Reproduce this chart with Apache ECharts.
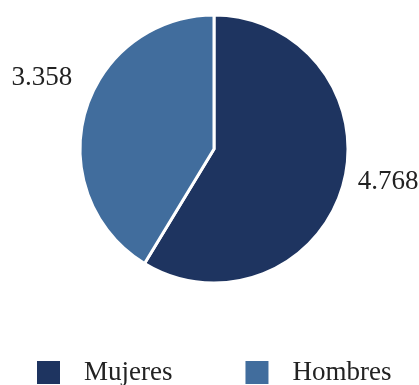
<!DOCTYPE html>
<html>
<head>
<meta charset="utf-8">
<script src="https://cdn.jsdelivr.net/npm/echarts@6/dist/echarts.min.js"></script>
<style>
  html, body { margin: 0; padding: 0; background: #fff; }
  #chart { width: 419px; height: 385px; }
</style>
</head>
<body>
<div id="chart"></div>
<script>
// datos del gráfico
const categories = ['Mujeres', 'Hombres']
const values = [4768, 3358]
const labels = ['4.768', '3.358']
const colors = ['#1e3460', '#416d9d']

const chart = echarts.init(document.getElementById('chart'))

const seriesData = categories.map((name, i) => ({
  name: name,
  value: values[i],
  itemStyle: { color: colors[i] },
  label: { formatter: labels[i] }
}))

const option = {
  animation: false,
  textStyle: { fontFamily: 'Liberation Serif' },
  legend: {
    data: categories,
    left: 35,
    top: 359,
    padding: 0,
    icon: 'rect',
    itemWidth: 25,
    itemHeight: 25,
    itemGap: 71,
    textStyle: {
      fontFamily: 'Liberation Serif',
      fontSize: 27,
      color: '#222',
      padding: [0, 0, 0, 18]
    }
  },
  series: [
    {
      type: 'pie',
      center: [214, 149],
      radius: 134,
      startAngle: 90,
      clockwise: true,
      data: seriesData,
      itemStyle: {
        borderColor: '#fff',
        borderWidth: 3
      },
      label: {
        show: true,
        position: 'outside',
        fontFamily: 'Liberation Serif',
        fontSize: 27,
        color: '#222',
        overflow: 'none'
      },
      labelLine: { show: false, length: 10, length2: 0 },
      // desplazar etiquetas como en el original
      labelLayout: function (params) {
        if (params.dataIndex === 1) return { dy: -32, dx: 2 }
        return { dy: -6 }
      },
      emphasis: { disabled: true }
    }
  ]
}

chart.setOption(option)
</script>
</body>
</html>
